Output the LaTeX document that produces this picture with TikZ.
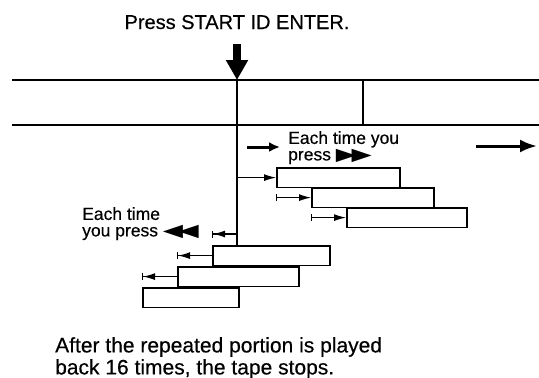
\documentclass[tikz,border=0pt]{standalone}
\usepackage{fontspec}
\setmainfont[FakeBold=0.4]{Liberation Sans}
\newfontfamily\symfont{DejaVu Sans}
\usetikzlibrary{arrows.meta}

\begin{document}
\begin{tikzpicture}[x=1pt,y=-1pt,
    tape/.style={line width=1.4pt},
    seg/.style={draw, line width=1.7pt, inner sep=0pt, minimum width=#1, minimum height=19.5pt, anchor=north west},
    fwd/.style={line width=1.1pt, -{Latex[length=12pt,width=7pt]}},
    fwdbar/.style={line width=1.1pt, {Bar[width=7pt]}-{Latex[length=12pt,width=7pt]}},
    bwd/.style={line width=1.1pt, -{Latex[length=12pt,width=7pt]Bar[width=7pt]}},
    lbl/.style={inner sep=0pt, anchor=north west, align=left}]
  \useasboundingbox (0,0) rectangle (539,378);
  \node[font=\fontsize{20}{22}\selectfont, anchor=base] (press) at (237,29) {Press START ID ENTER.};
  \draw[tape] (12,80) -- (539,80);
  \draw[tape] (12,125) -- (539,125);
  \draw[line width=1.3pt] (363,80) -- (363,125);
  \coordinate (tap) at (237,80);
  \draw[line width=8pt, -{Triangle[length=20pt,width=21pt]}] (237,44) -- (tap);
  \node[seg=123pt] (f1) at (276,167) {};
  \node[seg=122pt] (f2) at (311,187) {};
  \node[seg=120pt] (f3) at (346,207) {};
  \node[seg=117pt] (b1) at (212,245) {};
  \node[seg=121pt] (b2) at (177,266) {};
  \node[seg=96pt] (b3) at (142,287) {};
  \draw[line width=1.3pt] (tap) -- (tap |- b1.north);
  \draw[fwd] (tap |- f1.west) -- (f1.west);
  \draw[fwdbar] (f1.west |- f2.west) -- (f2.west);
  \draw[fwdbar] (f2.west |- f3.west) -- (f3.west);
  \coordinate (bk) at (237,234);
  \draw[bwd] (bk) -- (bk -| b1.west);
  \draw[bwd] (b1.west) -- (b1.west -| b2.west);
  \draw[bwd] (b2.west) -- (b2.west -| b3.west);
  \coordinate (ffa) at (247,147);
  \coordinate (ffb) at (280,147);
  \draw[line width=3pt, -{Latex[length=11pt,width=10pt]}] (ffa) -- (ffb);
  \coordinate (fwa) at (476,146);
  \coordinate (fwb) at (537,146);
  \draw[line width=3pt, -{Latex[length=17pt,width=13pt]}] (fwa) -- (fwb);
  \node[lbl, font=\fontsize{17.5}{16.5}\selectfont] (fwdtxt) at (288,131) {Each time you\\press {\symfont\scalebox{1.5}[1]{▶\kern-3pt▶}}};
  \node[lbl, font=\fontsize{17.5}{16.5}\selectfont] (bwdtxt) at (82,207) {Each time\\you press {\symfont\scalebox{1.5}[1]{◀\kern-3pt◀}}};
  \node[lbl, font=\fontsize{21}{22}\selectfont] (note) at (55,337) {After the repeated portion is played\\back 16 times, the tape stops.};
\end{tikzpicture}
\end{document}
